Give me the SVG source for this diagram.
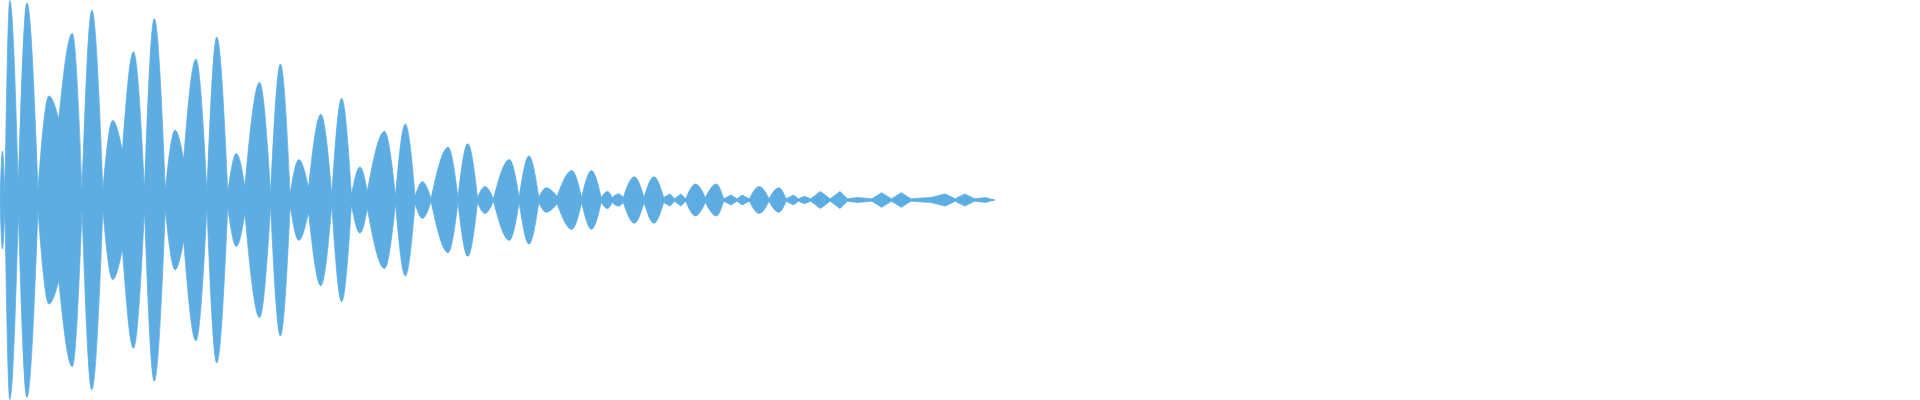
<svg xmlns="http://www.w3.org/2000/svg" xmlns:xlink="http://www.w3.org/1999/xlink" width="1920" height="400" viewBox="0 0 1920 400">
<style>.w{fill:#5dade2;stroke:#5dade2;stroke-width:0.6;stroke-linejoin:round}</style>
<defs>
<path id="upper" class="w" d="M0,0 C0.67,-20.8 1.33,-40 2,-40 C2.67,-40 3.33,-23.7 4,-6
C5.33,-87.6 6.67,-163 8,-163 C10.33,-163 12.67,-89.6 15,-10
C17.33,-88.5 19.67,-161 22,-161 C25,-161 28,-87.6 31,-8
C34,-48 37,-85 40,-85 C42.67,-85 45.33,-75.9 48,-66
C51.67,-102.4 55.33,-136 59,-136 C61.67,-136 64.33,-74.6 67,-8
C69.67,-84.4 72.33,-155 75,-155 C78,-155 81,-84.4 84,-8
C86.67,-37.6 89.33,-65 92,-65 C94.67,-65 97.33,-53 100,-40
C103,-82.1 106,-121 109,-121 C112,-121 115,-66.8 118,-8
C120.67,-80.8 123.33,-148 126,-148 C129,-148 132,-80.8 135,-8
C137.67,-33.5 140.33,-57 143,-57 C145.33,-57 147.67,-45.5 150,-33
C153.33,-75.6 156.67,-115 160,-115 C163,-115 166,-62.7 169,-6
C171.67,-72 174.33,-133 177,-133 C180,-133 183,-72 186,-6
C188.33,-22.6 190.67,-38 193,-38 C195.33,-38 197.67,-25 200,-11
C204,-55.2 208,-96 212,-96 C215,-96 218,-52.3 221,-5
C223.67,-60.1 226.33,-111 229,-111 C231.67,-111 234.33,-60.1 237,-5
C239.33,-19.6 241.67,-33 244,-33 C246.67,-33 249.33,-22 252,-10
C255.33,-41.2 258.67,-70 262,-70 C265,-70 268,-38.3 271,-4
C273.67,-45.1 276.33,-83 279,-83 C281.67,-83 284.33,-45.1 287,-4
C289.33,-16 291.67,-27 294,-27 C296,-27 298,-17.4 300,-7
C304.67,-32.5 309.33,-56 314,-56 C317,-56 320,-30.6 323,-3
C325.67,-33.7 328.33,-62 331,-62 C333.67,-62 336.33,-33.7 339,-3
C341,-9.2 343,-15 345,-15 C347.33,-15 349.67,-8.3 352,-1
C356.67,-22.8 361.33,-43 366,-43 C368.67,-43 371.33,-23.3 374,-2
C376.67,-24.9 379.33,-46 382,-46 C384.67,-46 387.33,-24.9 390,-2
C392,-6.7 394,-11 396,-11 C398.33,-11 400.67,-6.2 403,-1
C407.33,-17.6 411.67,-33 416,-33 C418.67,-33 421.33,-18.1 424,-2
C426.67,-19.7 429.33,-36 432,-36 C434.67,-36 437.33,-19.7 440,-2
C442,-6.2 444,-10 446,-10 C449,-10 452,-6.6 455,-3
C459,-13.9 463,-24 467,-24 C469.67,-24 472.33,-13.4 475,-2
C477.67,-13.4 480.33,-24 483,-24 C485.67,-24 488.33,-13.4 491,-2
C492.67,-4.6 494.33,-7 496,-7 C497.33,-7 498.67,-4.6 500,-2
C501.67,-3.6 503.33,-5 505,-5 C506.33,-5 507.67,-3.6 509,-2
C512,-10.8 515,-19 518,-19 C520.67,-19 523.33,-10.8 526,-2
C528.67,-10.8 531.33,-19 534,-19 C536.67,-19 539.33,-10.8 542,-2
L547,-5 L551,-1 L556,-5 L560,-1
C562.67,-7.2 565.33,-13 568,-13 C570.67,-13 573.33,-7.7 576,-2
C579,-7.7 582,-13 585,-13 C587,-13 589,-7.2 591,-1
L597,-4 L602,-1 L606,-4 L612,-1
C614.67,-6.2 617.33,-11 620,-11 C622.67,-11 625.33,-6.2 628,-1
C630.67,-5.7 633.33,-10 636,-10 C638,-10 640,-5.7 642,-1
L648,-4 L652,-1 L657,-3 L662,-1 L670,-7 L678,-1 L686,-7 L692,-1 L700,-2 L712,-1 L720,-6 L728,-1 L736,-6 L744,-1 L760,-2 L772,-5 L780,-1 L788,-5 L796,-1 L805,-2 L812,0 Z"/>
</defs>
<g id="waveform" transform="translate(0,200) scale(1.2245)">
<use xlink:href="#upper" href="#upper"/>
<use xlink:href="#upper" href="#upper" transform="scale(1,-1)"/>
<line x1="0" y1="0" x2="812" y2="0" stroke="#5dade2" stroke-width="1"/>
</g>
</svg>
